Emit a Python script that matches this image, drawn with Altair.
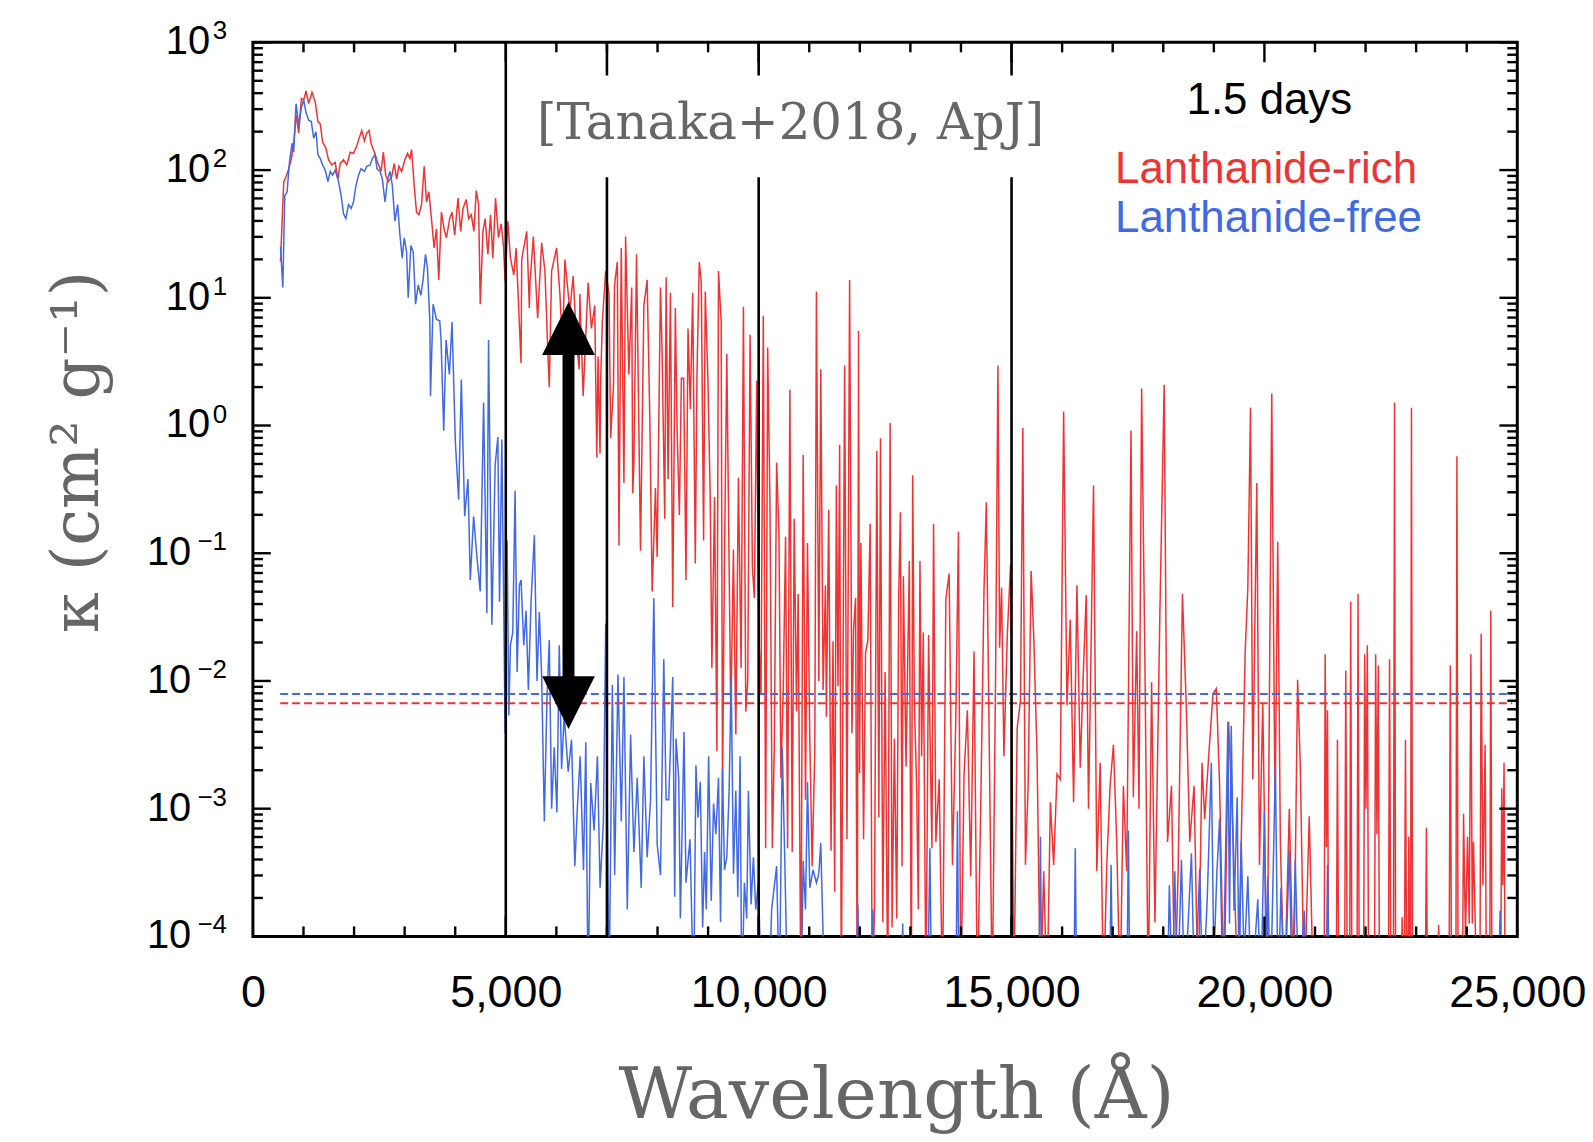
import altair as alt
import pandas as pd

# ---------------- data (wavelength in Angstrom, log10 kappa) ----------------
red_spectrum = [
    [545,1.285],[610,1.91],[656,1.95],[709,2.01],[761,2.09],[807,2.21],[853,2.43],[906,2.29],[958,2.56],[1004,2.55],
    [1050,2.62],[1102,2.52],[1168,2.61],[1234,2.53],[1286,2.38],[1332,2.36],[1378,2.22],[1444,2.17],[1496,2.08],[1562,2.04],
    [1627,2.06],[1680,1.93],[1726,2.05],[1791,2.08],[1857,2.04],[1923,2.14],[1988,2.13],[2054,2.19],[2100,2.25],[2152,2.31],
    [2205,2.23],[2251,2.29],[2297,2.31],[2336,2.21],[2402,2.14],[2467,2.06],[2533,1.99],[2579,2.14],[2625,1.96],[2677,1.91],
    [2743,1.95],[2795,2.05],[2841,1.93],[2887,2.03],[2940,1.99],[3005,2.08],[3058,2.13],[3104,2.09],[3137,2.16],[3189,1.88],
    [3235,1.67],[3281,1.65],[3334,1.73],[3386,2.03],[3432,1.75],[3478,1.83],[3530,1.62],[3583,1.39],[3629,1.54],[3675,1.14],
    [3727,1.67],[3780,1.54],[3826,1.47],[3891,1.62],[3937,1.67],[3990,1.49],[4055,1.78],[4108,1.52],[4154,1.70],[4219,1.77],
    [4265,1.62],[4318,1.65],[4370,1.52],[4416,1.84],[4462,1.73],[4495,0.95],[4548,1.52],[4593,1.62],[4646,1.34],[4698,1.65],
    [4744,1.31],[4797,1.78],[4856,1.47],[4908,1.58],[4954,1.41],[4987,1.13],[5040,1.60],[5092,1.31],[5158,1.18],[5204,1.39],
    [5302,0.49],[5315,1.30],[5414,1.52],[5466,0.92],[5479,1.12],[5545,1.48],[5630,0.84],[5709,1.43],
    [5774,1.21],[5840,0.49],[5860,0.30],[5906,1.21],[6004,1.39],[6070,1.03],[6122,0.61],[6168,1.30],[6267,0.90],[6332,1.17],
    [6398,0.67],[6451,0.44],[6464,1.03],[6529,0.23],[6628,1.12],[6693,0.76],[6759,0.94],[6799,-0.25],[6825,0.54],[6863,-0.22],
    [6877,0.37],[6909,0.81],[6975,1.21],[7041,1.03],[7074,-0.10],[7130,0.32],[7150,1.10],[7205,1.28],[7238,-0.94],[7283,1.39],
    [7336,-0.45],[7369,1.48],[7434,0.40],[7490,1.08],[7510,-0.53],[7533,-0.30],[7585,1.34],[7664,-0.98],[7730,0.94],[7795,1.14],
    [7848,0.05],[7894,-1.30],[7959,-0.49],[7993,-1.03],[8058,1.08],[8091,0.57],[8143,-0.73],[8170,1.16],[8209,-0.42],[8255,1.04],
    [8301,-1.42],[8353,0.92],[8386,-0.01],[8432,-0.70],[8472,0.37],[8517,0.37],[8563,-1.21],[8603,0.76],[8649,0.13],[8695,1.04],
    [8747,-1.08],[8780,0.40],[8826,1.28],[8865,1.12],[8911,-0.90],[8944,1.05],[8996,0.37],[9042,-0.56],[9075,-1.90],[9128,-0.56],
    [9174,-2.55],[9206,1.21],[9259,0.81],[9285,-2.86],[9324,-1.04],[9370,0.56],[9403,-0.63],[9449,-2.28],[9501,-0.97],[9548,-2.42],
    [9600,-0.41],[9653,-1.90],[9699,0.93],[9745,-2.24],[9784,-2.00],[9830,0.71],[9876,-1.11],[9915,-1.35],[9961,0.35],[10000,-1.60],
    [10046,-2.11],[10092,0.86],[10138,-3.31],[10178,0.61],[10224,-0.63],[10270,-3.31],[10309,-2.52],[10355,-0.29],[10401,-0.84],[10440,-2.76],
    [10486,-2.07],[10532,-0.87],[10572,-3.31],[10617,0.28],[10663,-3.34],[10703,-0.73],[10749,-2.24],[10781,-1.32],[10834,-4.5],[10880,-0.23],
    [10926,-2.93],[10965,-0.92],[11011,-2.45],[11057,-3.45],[11110,-2.55],[11142,1.05],[11189,-2.00],[11228,0.44],[11274,-2.07],[11320,-1.25],
    [11339,-2.28],[11385,-0.66],[11431,-3.33],[11470,-1.69],[11503,-3.65],[11536,-0.47],[11569,-2.04],[11601,-0.15],[11634,-4.5],[11700,0.47],
    [11746,-3.24],[11798,1.14],[11844,-2.41],[11877,-1.59],[11916,-1.35],[11949,-4.5],[11975,0.74],[11995,-2.72],[12021,-0.92],[12074,-3.24],
    [12113,-1.78],[12159,-1.68],[12205,-0.77],[12245,-4.5],[12290,-3.79],[12336,-0.20],[12376,-3.07],[12409,-0.10],[12454,-3.89],[12500,-1.93],
    [12553,-4.5],[12599,0.02],[12638,-3.93],[12684,-2.45],[12730,-3.86],[12769,-1.35],[12802,-0.68],[12835,-3.45],[12861,-1.18],[12914,-2.67],
    [12979,-1.06],[13019,-4.5],[13045,-0.39],[13078,-2.17],[13124,-2.83],[13157,-3.79],[13189,-1.06],[13222,-2.59],[13255,-1.62],[13307,-4.5],
    [13360,-1.64],[13393,-2.55],[13426,-3.31],[13458,-0.77],
    [13504,-3.26],[13569,-2.77],[13635,-4.5],[13701,-1.36],[13766,-1.16],[13832,-3.44],
    [13897,-2.32],[13950,-0.83],[13996,-4.5],[14061,-2.73],[14127,-2.23],[14193,-3.53],[14258,-1.77],[14324,-4.5],[14390,-3.0],[14455,-1.30],
    [14501,-0.60],[14554,-2.32],[14619,-4.5],[14685,-1.92],[14731,0.47],[14764,-1.74],[14803,-1.27],[14849,-2.59],[14915,-1.65],[14980,-1.09],
    [15046,-4.5],[15111,-2.37],[15177,-2.15],[15223,-0.02],[15275,-3.44],[15328,-2.82],[15387,-1.14],[15439,-1.65],[15505,-2.59],[15571,-4.5],
    [15636,-3.49],[15702,-4.5],[15768,-2.95],[15833,-3.44],[15899,-2.73],[15964,-2.77],[16030,0.11],[16096,-2.19],[16161,-1.52],[16227,-2.95],
    [16293,-1.25],[16358,-2.68],[16424,-1.88],[16477,-1.33],[16522,-3.0],[16555,-2.19],[16621,-0.47],[16686,-3.49],[16752,-2.64],[16818,-4.5],
    [16883,-3.44],[16949,-2.82],[17014,-2.50],[17080,-3.26],[17146,-4.5],[17211,-2.82],[17277,-3.49],[17362,-0.04],[17408,-2.91],[17474,-1.61],
    [17520,-3.0],[17572,0.29],[17638,-1.88],[17703,-4.5],[17769,-2.01],[17835,-3.89],[17933,-1.47],[18018,0.32],[18084,-3.26],[18163,-2.82],
    [18228,-4.5],[18294,-3.49],[18379,-1.32],[18458,-2.23],[18524,-3.26],[18609,-2.82],[18688,-4.5],[18766,-2.64],[18819,-3.08],[18898,-2.59],
    [18983,-2.10],[19049,-2.06],[19114,-2.82],[19200,-4.5],[19292,-2.32],[19377,-3.17],[19475,-4.5],[19541,-3.26],[19620,-1.77],[19672,-1.27],
    [19725,0.14],[19770,-2.77],[19849,-0.45],[19902,-3.44],[19967,-2.17],[20053,-4.5],[20145,0.25],[20210,-3.04],[20263,-0.91],[20315,-3.26],
    [20394,-4.5],[20492,-3.0],[20578,-4.5],[20656,-1.99],[20709,-2.66],[20788,-4.5],[20886,-3.06],[20971,-4.5],[21180,-4.5],[21201,-1.79],
    [21225,-3.3],[21247,-2.23],[21270,-4.5],[21420,-4.5],[21444,-2.46],[21470,-4.5],[21585,-4.5],[21608,-1.92],[21640,-4.5],[21685,-4.5],
    [21706,-1.38],[21730,-4.5],[21830,-4.5],[21851,-1.32],[21875,-4.5],[21960,-4.5],[21982,-1.79],[22008,-3.0],[22035,-1.72],[22060,-4.5],
    [22175,-4.5],[22199,-1.79],[22225,-3.2],[22251,-1.88],[22275,-4.5],[22450,-4.5],[22474,-1.83],[22500,-4.5],[22550,-4.5],[22573,0.18],
    [22595,-4.5],[22700,-4.5],[22724,-3.85],[22750,-4.5],[22765,-4.5],[22789,-2.46],[22815,-4.5],[22835,-4.5],[22855,-3.22],[22880,-4.5],
    [22890,-4.5],[22907,0.14],[22930,-4.5],[23180,-4.5],[23203,-3.15],[23225,-4.5],[23420,-4.5],[23445,-3.91],[23470,-4.5],[23650,-4.5],
    [23675,-1.88],[23700,-4.5],[23785,-4.5],[23806,-0.24],[23830,-4.5],[23915,-4.5],[23937,-3.04],[23975,-4.0],[24016,-3.22],[24050,-3.9],
    [24082,-1.79],[24110,-3.9],[24134,-3.26],[24200,-4.5],[24260,-4.5],[24285,-1.63],[24320,-3.6],[24364,-2.50],[24390,-4.5],[24455,-4.5],
    [24476,-1.45],[24500,-4.5],[24670,-4.5],[24692,-2.84],[24715,-3.6],[24738,-2.64],[24760,-4.5],[24850,-4.5],
]

blue_spectrum = [
    [545,1.40],[591,1.08],[630,1.80],[676,1.83],[722,2.06],[774,2.21],[807,2.14],[853,2.52],[906,2.35],[958,2.49],
    [1004,2.55],[1050,2.45],[1102,2.39],[1155,2.38],[1201,2.25],[1247,2.30],[1286,2.12],[1332,2.09],[1378,2.04],[1430,2.00],
    [1483,1.91],[1529,1.99],[1575,1.96],[1627,2.00],[1693,1.91],[1745,1.80],[1791,1.66],[1837,1.62],[1890,1.73],[1942,1.70],
    [1988,1.75],[2034,1.87],[2087,1.96],[2139,2.01],[2205,1.99],[2251,2.03],[2316,2.04],[2362,2.09],[2415,2.12],[2454,2.01],
    [2513,1.99],[2559,1.93],[2612,1.75],[2664,1.93],[2710,1.99],[2756,1.88],[2808,1.60],[2861,1.73],[2907,1.49],[2953,1.31],
    [2992,1.47],[3038,1.36],[3071,1.00],[3124,1.41],[3170,1.36],[3216,0.95],[3268,1.10],[3321,1.02],[3366,1.15],[3412,1.34],
    [3452,1.23],[3498,0.82],[3511,0.23],[3563,0.95],[3629,0.83],[3694,0.82],[3720,0.67],[3773,-0.04],
    [3819,0.67],[3885,0.40],[3937,0.81],[4003,-0.13],[4068,-0.58],[4121,0.36],[4187,-0.71],[4252,-0.42],[4298,-1.21],[4364,-0.71],
    [4429,-1.03],[4495,-1.30],[4561,0.18],[4626,-1.47],[4659,0.67],[4725,-1.56],[4790,-0.31],[4843,-0.09],[4876,-1.38],[4922,-0.11],
    [4987,-2.41],[5027,-0.90],[5060,-2.27],[5092,-1.72],[5138,-1.62],[5184,-0.51],[5224,-1.93],[5269,-1.25],[5302,-1.21],[5355,-1.72],
    [5401,-1.45],[5447,-2.07],[5499,-1.38],[5565,-0.86],[5617,-2.00],[5663,-1.46],[5709,-1.96],[5762,-3.10],[5814,-2.14],[5860,-1.68],
    [5906,-3.00],[5958,-2.52],[6011,-3.03],[6057,-1.72],[6103,-2.69],[6155,-2.27],[6234,-2.71],[6300,-2.46],[6365,-3.45],[6418,-2.97],
    [6470,-2.59],[6536,-3.48],[6582,-2.48],[6628,-4.5],[6680,-2.80],[6746,-3.17],[6812,-2.59],[6864,-3.62],[6930,-3.10],[6976,-1.55],
    [7041,-4.5],[7107,-2.03],[7153,-3.52],[7218,-1.95],[7284,-3.10],[7336,-1.97],[7402,-3.79],[7468,-2.42],[7533,-3.34],[7599,-2.76],
    [7678,-3.62],[7730,-2.59],[7796,-3.38],[7862,-2.93],[7927,-1.35],[7993,-3.28],[8059,-3.52],[8124,-1.83],[8170,-2.93],[8222,-2.93],
    [8301,-1.97],[8340,-3.69],[8366,-2.45],[8419,-2.76],[8452,-3.86],[8524,-2.40],[8563,-3.58],[8642,-3.24],[8714,-4.5],[8760,-2.66],
    [8800,-3.07],[8846,-2.79],[8892,-3.93],[8931,-3.34],[8964,-3.79],[9010,-2.59],[9062,-3.72],[9108,-2.96],[9154,-3.20],[9206,-2.76],
    [9246,-3.89],[9285,-2.69],[9324,-3.48],[9370,-3.38],[9416,-2.86],[9456,-1.97],[9502,-3.51],[9548,-2.86],[9587,-3.69],[9633,-2.59],
    [9666,-4.5],[9718,-3.58],[9764,-3.86],[9797,-2.86],[9850,-3.75],[9896,-3.38],[9942,-3.79],[9994,-3.58],[10059,-4.5],[10204,-4.5],
    [10256,-3.79],[10355,-3.45],[10410,-4.5],[10466,-2.52],[10519,-3.45],[10572,-4.5],[10840,-4.5],[10880,-3.41],[10926,-3.79],[10965,-2.79],
    [11011,-3.62],[11077,-3.48],[11142,-3.58],[11189,-3.51],[11228,-3.27],[11306,-4.5],
    [11930,-4.5],[11962,-3.75],[11995,-4.5],[12230,-4.5],[12258,-3.79],[12290,-4.5],[12820,-4.5],[12848,-3.9],[12875,-4.5],
    [13340,-4.5],[13386,-3.31],[13420,-4.5],[13900,-4.5],[13930,-3.02],[13960,-4.5],[15540,-4.5],[15571,-3.22],[15600,-4.5],[16230,-4.5],
    [16260,-3.31],[16290,-4.5],[16940,-4.5],[16968,-3.44],[17000,-4.5],[17280,-4.5],[17310,-3.17],[17340,-4.5],[18080,-4.5],[18120,-3.6],
    [18180,-4.5],[18228,-3.49],[18280,-4.5],[18360,-3.40],[18420,-4.5],[18557,-3.35],[18620,-4.5],[18721,-3.47],[18780,-4.5],[18870,-3.7],
    [18950,-2.64],[19000,-4.2],[19060,-3.5],[19114,-3.08],[19180,-4.5],[19278,-2.32],[19310,-3.9],[19344,-2.35],[19400,-3.8],[19462,-2.91],
    [19500,-4.5],[19541,-3.26],[19600,-4.2],[19672,-3.53],[19740,-4.5],[19869,-3.71],[19930,-4.5],[20000,-3.02],[20030,-4.2],[20066,-3.53],
    [20120,-4.5],[20217,-2.66],[20270,-4.5],[20328,-3.62],[20400,-4.5],[20492,-3.33],[20550,-4.5],[20610,-3.40],[20680,-4.5],[20788,-3.80],
    [20830,-4.5],[21220,-4.5],[21247,-3.44],[21280,-4.5],[24630,-4.5],[24659,-3.80],[24690,-4.5],[24850,-4.5],
]

# horizontal dashed reference levels (kappa) and their extent
dashed_levels = [
    {"series": "Lanthanide-free", "kappa": 7.9e-3, "color": "#4169E1"},
    {"series": "Lanthanide-rich", "kappa": 6.7e-3, "color": "#EE3333"},
]
dashed_extent = [540, 24900]

# vertical black guide lines (Angstrom)
guide_wavelengths = [5000, 7000, 10000, 15000]

# double arrow
arrow_wavelength = 6240
arrow_shaft = [4.0, 0.0105]          # kappa at shaft ends
arrow_heads = [5.75, 0.00676]        # kappa at head centres (up, down)

# axis ticks and labels
x_label_values = [0, 5000, 10000, 15000, 20000, 25000]
x_minor_ticks = [1000, 2000, 3000, 4000, 6000, 7000, 8000, 9000, 11000, 12000, 13000, 14000,
                 16000, 17000, 18000, 19000, 21000, 22000, 23000, 24000]
x_major_ticks = [5000, 10000, 15000, 20000]
y_decades = [1e-4, 1e-3, 1e-2, 1e-1, 1e0, 1e1, 1e2, 1e3]
y_exponents = ["−4", "−3", "−2", "−1", "0", "1", "2", "3"]
y_minor_ticks = [m * 10.0 ** e for e in range(-4, 3) for m in range(2, 10)]

# annotations
citation = {"text": "[Tanaka+2018, ApJ]", "wl": 10630, "kappa": 229}
citation_box = {"wl0": 5400, "wl1": 15900, "k0": 88, "k1": 550}
legend_items = [
    {"text": "1.5 days", "wl": 20098, "kappa": 347, "color": "#000000", "align": "center"},
    {"text": "Lanthanide-rich", "wl": 17047, "kappa": 100, "color": "#EE3333", "align": "left"},
    {"text": "Lanthanide-free", "wl": 17047, "kappa": 41.4, "color": "#4169E1", "align": "left"},
]

# ---------------- chart ----------------
W, H = 1270, 898
RED, BLUE = "#EE3333", "#4169E1"
SANS = "Liberation Sans"
SERIF = "DejaVu Serif"

xscale = alt.Scale(domain=[0, 25000], nice=False, zero=False)
yscale = alt.Scale(type="log", domain=[1e-4, 1e3], nice=False)

x_axis = alt.Axis(values=x_label_values, format=",d", labelFont=SANS, labelFontSize=45,
                  labelColor="black", ticks=False, domain=False, grid=False, labelPadding=34,
                  labelFlush=False, labelOverlap=False,
                  title="Wavelength (Å)", titleFont=SERIF, titleFontSize=72, titleFontWeight="normal",
                  titleColor="#666666", titleX=646, titleY=182, titleBaseline="alphabetic")
y_axis = alt.Axis(values=y_decades, labels=False, ticks=False, domain=False, grid=False,
                  title="κ (cm² g⁻¹)", titleFont=SERIF, titleFontSize=66, titleFontWeight="normal",
                  titleColor="#666666", titleX=-176, titleY=411, titleBaseline="middle", titleAngle=-90)


def X(field):
    return alt.X(field, scale=xscale, axis=x_axis, title="Wavelength (Å)")


def Y(field):
    return alt.Y(field, scale=yscale, axis=y_axis, title="κ (cm² g⁻¹)")


red_df = pd.DataFrame(red_spectrum, columns=["wl", "logk"])
blue_df = pd.DataFrame(blue_spectrum, columns=["wl", "logk"])

red_line = alt.Chart(red_df).transform_calculate(kappa="pow(10, datum.logk)").mark_line(
    color=RED, strokeWidth=1.5, clip=True).encode(x=X("wl:Q"), y=Y("kappa:Q"), order="wl:Q")
blue_line = alt.Chart(blue_df).transform_calculate(kappa="pow(10, datum.logk)").mark_line(
    color=BLUE, strokeWidth=1.5, clip=True).encode(x=X("wl:Q"), y=Y("kappa:Q"), order="wl:Q")

dash_df = pd.DataFrame(dashed_levels)
dash_df["x0"] = dashed_extent[0]
dash_df["x1"] = dashed_extent[1]
dashes = alt.Chart(dash_df).mark_rule(strokeDash=[8, 4], strokeWidth=2).encode(
    x=X("x0:Q"), x2="x1:Q", y=Y("kappa:Q"), color=alt.Color("color:N", scale=None))

guides = alt.Chart(pd.DataFrame({"wl": guide_wavelengths})).mark_rule(color="black", strokeWidth=2.6).encode(
    x=X("wl:Q"), y=alt.value(0), y2=alt.value(H))

box = alt.Chart(pd.DataFrame([citation_box])).mark_rect(color="white").encode(
    x=X("wl0:Q"), x2="wl1:Q", y=Y("k0:Q"), y2="k1:Q")

cite = alt.Chart(pd.DataFrame([citation])).mark_text(
    font=SERIF, fontSize=50, color="#666666", align="center", baseline="middle").encode(
    x=X("wl:Q"), y=Y("kappa:Q"), text="text:N")

shaft = alt.Chart(pd.DataFrame({"wl": [arrow_wavelength], "k0": [arrow_shaft[0]], "k1": [arrow_shaft[1]]})).mark_rule(
    color="black", strokeWidth=12).encode(x=X("wl:Q"), y=Y("k0:Q"), y2="k1:Q")
head_up = alt.Chart(pd.DataFrame({"wl": [arrow_wavelength], "k": [arrow_heads[0]]})).mark_point(
    shape="M0,-1L1,1L-1,1Z", filled=True, color="black", opacity=1, size=2809, strokeWidth=0).encode(
    x=X("wl:Q"), y=Y("k:Q"))
head_down = alt.Chart(pd.DataFrame({"wl": [arrow_wavelength], "k": [arrow_heads[1]]})).mark_point(
    shape="M0,1L1,-1L-1,-1Z", filled=True, color="black", opacity=1, size=2809, strokeWidth=0).encode(
    x=X("wl:Q"), y=Y("k:Q"))

leg_df = pd.DataFrame(legend_items)
leg_center = alt.Chart(leg_df[leg_df["align"] == "center"]).mark_text(
    font=SANS, fontSize=44, align="center", baseline="middle").encode(
    x=X("wl:Q"), y=Y("kappa:Q"), text="text:N", color=alt.Color("color:N", scale=None))
leg_left = alt.Chart(leg_df[leg_df["align"] == "left"]).mark_text(
    font=SANS, fontSize=44, align="left", baseline="middle").encode(
    x=X("wl:Q"), y=Y("kappa:Q"), text="text:N", color=alt.Color("color:N", scale=None))

# y tick labels as "10" plus a raised exponent
ylab_df = pd.DataFrame({"k": y_decades, "exp": y_exponents})
ylab_df["neg"] = ylab_df["exp"].str.startswith("−")
base_pos = alt.Chart(ylab_df[~ylab_df["neg"]]).mark_text(
    font=SANS, fontSize=40, align="right", baseline="middle", color="black").encode(
    y=Y("k:Q"), x=alt.value(-43), text=alt.value("10"))
base_neg = alt.Chart(ylab_df[ylab_df["neg"]]).mark_text(
    font=SANS, fontSize=40, align="right", baseline="middle", color="black").encode(
    y=Y("k:Q"), x=alt.value(-62), text=alt.value("10"))
exps = alt.Chart(ylab_df).mark_text(
    font=SANS, fontSize=26, align="right", baseline="middle", color="black", dy=-11).encode(
    y=Y("k:Q"), x=alt.value(-26), text="exp:N")


# inward frame ticks
def xticks(vals, length):
    d = pd.DataFrame({"wl": vals})
    bottom = alt.Chart(d).mark_rule(color="black", strokeWidth=2.4).encode(
        x=X("wl:Q"), y=alt.value(H), y2=alt.value(H - length))
    top = alt.Chart(d).mark_rule(color="black", strokeWidth=2.4).encode(
        x=X("wl:Q"), y=alt.value(0), y2=alt.value(length))
    return [bottom, top]


def yticks(vals, length):
    d = pd.DataFrame({"k": vals})
    left = alt.Chart(d).mark_rule(color="black", strokeWidth=2.4).encode(
        y=Y("k:Q"), x=alt.value(0), x2=alt.value(length))
    right = alt.Chart(d).mark_rule(color="black", strokeWidth=2.4).encode(
        y=Y("k:Q"), x=alt.value(W), x2=alt.value(W - length))
    return [left, right]


tick_layers = xticks(x_minor_ticks, 10) + xticks(x_major_ticks, 20) + yticks(y_minor_ticks, 10) + yticks(y_decades, 18)

chart = alt.layer(
    red_line, blue_line, dashes, guides, box, cite, shaft, head_up, head_down,
    *tick_layers, leg_center, leg_left, base_pos, base_neg, exps
).properties(
    width=W, height=H,
    autosize=alt.AutoSizeParams(type="none"),
    padding={"left": 246, "top": 32, "right": 68, "bottom": 202},
    background="white",
).configure_view(stroke="black", strokeWidth=3)

chart.save("out.html", embed_options={"renderer": "svg", "actions": False})
